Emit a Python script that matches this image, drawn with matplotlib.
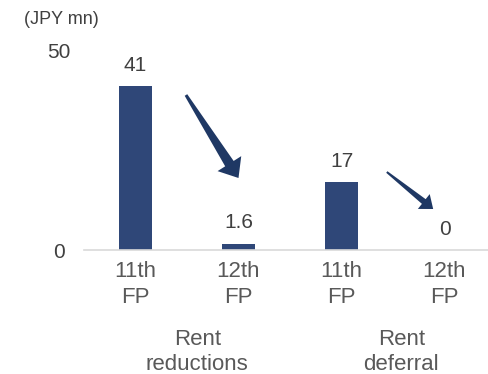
import matplotlib
matplotlib.use('Agg')
import numpy as np
import matplotlib.pyplot as plt
from matplotlib.patches import Polygon
import matplotlib.transforms as mtransforms

plt.rcParams['font.family'] = ['Liberation Sans', 'DejaVu Sans']

# data
tick_labels = ['11th\nFP', '12th\nFP', '11th\nFP', '12th\nFP']
values = [41, 1.6, 17, 0]
value_text = ['41', '1.6', '17', '0']
groups = ['Rent\nreductions', 'Rent\ndeferral']

bar_color = '#2F4778'
arrow_color = '#1F3864'
text_color = '#595959'

fig = plt.figure(figsize=(4.88, 3.74), dpi=100)
ax = fig.add_axes([84/488, 124/374, 412/488, 200/374])

x = list(range(len(values)))
ax.bar(x, values, width=0.32, color=bar_color)

for xi, v, t in zip(x, values, value_text):
    ax.annotate(t, (xi, v), xytext=(0, 15), textcoords='offset points',
                ha='center', va='center', fontsize=15, color='#404040')

ax.set_xlim(-0.5, 3.5)
ax.set_ylim(0, 50)
ax.set_yticks([0, 50])
ax.set_yticklabels(['0', '50'], fontsize=15, color='#404040')
for lab in ax.get_yticklabels():
    lab.set_horizontalalignment('center')
ax.tick_params(axis='y', length=0, pad=18)

ax.set_xticks(x)
ax.set_xticklabels(tick_labels, fontsize=16, color=text_color, linespacing=1.3)
ax.tick_params(axis='x', length=0, pad=8)

for s in ['top', 'right', 'left']:
    ax.spines[s].set_visible(False)
ax.spines['bottom'].set_color('#D9D9D9')
ax.spines['bottom'].set_linewidth(1.2)

trans = mtransforms.blended_transform_factory(ax.transData, ax.transAxes)
for gx, g in zip([0.6, 2.58], groups):
    ax.text(gx, -0.51, g, transform=trans, ha='center', va='center',
            fontsize=16, color=text_color, linespacing=1.3)

ax.text(-0.72, 1.15, '(JPY mn)', transform=trans, ha='center', va='center',
        fontsize=13, color='#404040')


def tapered_arrow(start, end, w0, w1, hw, hl):
    # polygon in pixel space: thin tail widening toward a triangular head
    p0 = ax.transData.transform(start)
    p1 = ax.transData.transform(end)
    d = p1 - p0
    d = d / np.hypot(*d)
    n = np.array([-d[1], d[0]])
    base = p1 - d * hl
    pts = [p0 + n * w0 / 2, base + n * w1 / 2, base + n * hw / 2, p1,
           base - n * hw / 2, base - n * w1 / 2, p0 - n * w0 / 2]
    ax.add_patch(Polygon(pts, closed=True, transform=mtransforms.IdentityTransform(),
                         facecolor=arrow_color, edgecolor='none', clip_on=False))


# trend arrows
tapered_arrow((0.49, 38.75), (1.0, 18.0), 3, 10, 28, 17)
tapered_arrow((2.44, 19.5), (2.89, 10.25), 2, 6, 19, 12)

fig.savefig('out.png', dpi=100)
